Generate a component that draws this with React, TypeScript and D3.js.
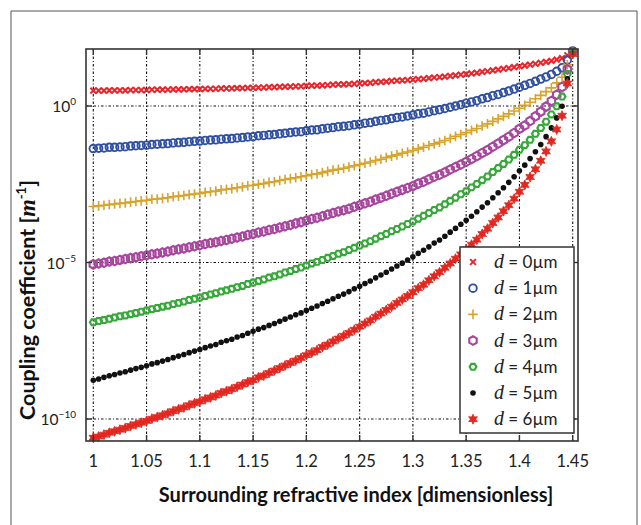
import React from "react";
import * as d3 from "d3";

const nValues = [
  1.0, 1.005, 1.01, 1.015, 1.02, 1.025, 1.03, 1.035, 1.04, 1.045,
  1.05, 1.055, 1.06, 1.065, 1.07, 1.075, 1.08, 1.085, 1.09, 1.095,
  1.1, 1.105, 1.11, 1.115, 1.12, 1.125, 1.13, 1.135, 1.14, 1.145,
  1.15, 1.155, 1.16, 1.165, 1.17, 1.175, 1.18, 1.185, 1.19, 1.195,
  1.2, 1.205, 1.21, 1.215, 1.22, 1.225, 1.23, 1.235, 1.24, 1.245,
  1.25, 1.255, 1.26, 1.265, 1.27, 1.275, 1.28, 1.285, 1.29, 1.295,
  1.3, 1.305, 1.31, 1.315, 1.32, 1.325, 1.33, 1.335, 1.34, 1.345,
  1.35, 1.355, 1.36, 1.365, 1.37, 1.375, 1.38, 1.385, 1.39, 1.395,
  1.4, 1.405, 1.41, 1.415, 1.42, 1.425, 1.43, 1.435, 1.44, 1.445,
  1.45,
];

// log10 of the coupling coefficient
const d0Exp = [
  0.49, 0.49, 0.49, 0.5, 0.5, 0.5, 0.5, 0.51, 0.51, 0.51,
  0.51, 0.52, 0.52, 0.52, 0.52, 0.53, 0.53, 0.53, 0.54, 0.54,
  0.54, 0.55, 0.55, 0.55, 0.56, 0.56, 0.56, 0.57, 0.57, 0.58,
  0.58, 0.59, 0.59, 0.6, 0.6, 0.61, 0.62, 0.62, 0.63, 0.63,
  0.64, 0.65, 0.65, 0.66, 0.67, 0.68, 0.69, 0.69, 0.7, 0.71,
  0.72, 0.73, 0.74, 0.76, 0.77, 0.78, 0.8, 0.81, 0.82, 0.83,
  0.84, 0.86, 0.87, 0.89, 0.91, 0.92, 0.94, 0.96, 0.98, 1.0,
  1.02, 1.04, 1.06, 1.09, 1.11, 1.14, 1.16, 1.19, 1.21, 1.24,
  1.27, 1.29, 1.32, 1.35, 1.38, 1.41, 1.44, 1.48, 1.53, 1.62,
  1.78,
];
const d1Exp = [
  -1.36, -1.35, -1.34, -1.32, -1.32, -1.31, -1.3, -1.28, -1.27, -1.26,
  -1.25, -1.23, -1.22, -1.21, -1.2, -1.18, -1.17, -1.16, -1.14, -1.13,
  -1.12, -1.1, -1.09, -1.08, -1.06, -1.05, -1.04, -1.02, -1.01, -0.99,
  -0.98, -0.95, -0.94, -0.92, -0.91, -0.89, -0.87, -0.85, -0.83, -0.82,
  -0.79, -0.77, -0.76, -0.73, -0.71, -0.69, -0.66, -0.65, -0.63, -0.6,
  -0.58, -0.55, -0.53, -0.49, -0.46, -0.44, -0.4, -0.37, -0.35, -0.32,
  -0.29, -0.25, -0.23, -0.19, -0.15, -0.12, -0.08, -0.04, 0.0, 0.04,
  0.09, 0.13, 0.17, 0.23, 0.27, 0.33, 0.37, 0.43, 0.48, 0.54,
  0.6, 0.66, 0.72, 0.79, 0.86, 0.93, 1.01, 1.11, 1.22, 1.47,
  1.76,
];
const d2Exp = [
  -3.21, -3.19, -3.17, -3.15, -3.13, -3.11, -3.1, -3.07, -3.05, -3.03,
  -3.01, -2.98, -2.97, -2.95, -2.93, -2.9, -2.88, -2.86, -2.83, -2.81,
  -2.79, -2.76, -2.74, -2.72, -2.68, -2.66, -2.64, -2.61, -2.59, -2.55,
  -2.53, -2.5, -2.48, -2.44, -2.42, -2.38, -2.35, -2.32, -2.29, -2.26,
  -2.23, -2.19, -2.17, -2.13, -2.09, -2.05, -2.02, -1.99, -1.95, -1.91,
  -1.87, -1.83, -1.79, -1.74, -1.7, -1.65, -1.6, -1.56, -1.51, -1.47,
  -1.42, -1.37, -1.32, -1.26, -1.21, -1.16, -1.1, -1.04, -0.97, -0.91,
  -0.85, -0.78, -0.72, -0.64, -0.57, -0.49, -0.41, -0.33, -0.25, -0.16,
  -0.07, 0.02, 0.12, 0.23, 0.34, 0.46, 0.58, 0.74, 0.92, 1.32,
  1.74,
];
const d3Exp = [
  -5.06, -5.03, -5.01, -4.97, -4.95, -4.92, -4.89, -4.86, -4.83, -4.8,
  -4.77, -4.74, -4.71, -4.68, -4.65, -4.61, -4.58, -4.55, -4.51, -4.48,
  -4.45, -4.41, -4.38, -4.35, -4.31, -4.28, -4.24, -4.2, -4.17, -4.12,
  -4.09, -4.04, -4.01, -3.96, -3.93, -3.88, -3.84, -3.8, -3.75, -3.71,
  -3.66, -3.61, -3.57, -3.52, -3.47, -3.42, -3.37, -3.33, -3.28, -3.22,
  -3.17, -3.11, -3.06, -2.99, -2.93, -2.87, -2.8, -2.74, -2.68, -2.62,
  -2.56, -2.48, -2.42, -2.34, -2.26, -2.2, -2.12, -2.03, -1.95, -1.87,
  -1.78, -1.69, -1.6, -1.5, -1.41, -1.3, -1.2, -1.09, -0.98, -0.86,
  -0.73, -0.62, -0.48, -0.33, -0.18, -0.02, 0.16, 0.36, 0.61, 1.17,
  1.72,
];
const d4Exp = [
  -6.91, -6.87, -6.84, -6.8, -6.76, -6.72, -6.69, -6.65, -6.61, -6.57,
  -6.53, -6.49, -6.45, -6.41, -6.38, -6.33, -6.29, -6.25, -6.2, -6.16,
  -6.12, -6.07, -6.02, -5.98, -5.93, -5.89, -5.84, -5.79, -5.75, -5.69,
  -5.64, -5.59, -5.54, -5.48, -5.44, -5.38, -5.32, -5.27, -5.21, -5.16,
  -5.1, -5.03, -4.98, -4.92, -4.85, -4.79, -4.72, -4.67, -4.6, -4.53,
  -4.46, -4.39, -4.32, -4.24, -4.16, -4.09, -4.0, -3.93, -3.85, -3.77,
  -3.69, -3.6, -3.51, -3.42, -3.32, -3.24, -3.14, -3.03, -2.93, -2.82,
  -2.72, -2.6, -2.49, -2.37, -2.25, -2.11, -1.98, -1.85, -1.71, -1.56,
  -1.4, -1.25, -1.08, -0.89, -0.7, -0.5, -0.27, -0.01, 0.3, 1.02,
  1.7,
];
const d5Exp = [
  -8.76, -8.72, -8.67, -8.62, -8.58, -8.53, -8.49, -8.44, -8.39, -8.35,
  -8.3, -8.24, -8.2, -8.15, -8.1, -8.04, -7.99, -7.94, -7.88, -7.83,
  -7.78, -7.72, -7.67, -7.62, -7.55, -7.5, -7.45, -7.38, -7.33, -7.26,
  -7.2, -7.13, -7.08, -7.01, -6.95, -6.88, -6.81, -6.74, -6.67, -6.61,
  -6.53, -6.46, -6.39, -6.31, -6.24, -6.16, -6.08, -6.01, -5.93, -5.84,
  -5.76, -5.67, -5.59, -5.49, -5.4, -5.31, -5.21, -5.11, -5.02, -4.92,
  -4.82, -4.71, -4.61, -4.5, -4.38, -4.28, -4.16, -4.03, -3.91, -3.78,
  -3.65, -3.52, -3.38, -3.23, -3.09, -2.93, -2.77, -2.61, -2.44, -2.26,
  -2.07, -1.89, -1.68, -1.46, -1.23, -0.98, -0.7, -0.38, -0.01, 0.87,
  1.68,
];
const d6Exp = [
  -10.6, -10.56, -10.5, -10.44, -10.39, -10.34, -10.29, -10.22, -10.17, -10.12,
  -10.06, -9.99, -9.94, -9.88, -9.82, -9.75, -9.69, -9.63, -9.56, -9.5,
  -9.44, -9.37, -9.31, -9.25, -9.17, -9.11, -9.05, -8.97, -8.9, -8.82,
  -8.76, -8.67, -8.61, -8.53, -8.45, -8.37, -8.29, -8.21, -8.13, -8.05,
  -7.96, -7.88, -7.8, -7.7, -7.62, -7.52, -7.43, -7.34, -7.25, -7.15,
  -7.05, -6.95, -6.85, -6.73, -6.63, -6.52, -6.41, -6.29, -6.18, -6.07,
  -5.95, -5.82, -5.71, -5.57, -5.44, -5.31, -5.17, -5.03, -4.88, -4.74,
  -4.58, -4.43, -4.27, -4.09, -3.92, -3.74, -3.56, -3.36, -3.17, -2.96,
  -2.74, -2.52, -2.27, -2.02, -1.75, -1.45, -1.13, -0.75, -0.31, 0.72,
  1.66,
];

const seriesLabels = ["0", "1", "2", "3", "4", "5", "6"];
const seriesExps = [d0Exp, d1Exp, d2Exp, d3Exp, d4Exp, d5Exp, d6Exp];
const seriesColors = ["#e5262b", "#2f4fa2", "#d7a32b", "#a6479d", "#36a93a", "#111111", "#e2271f"];

const xTicks = [1, 1.05, 1.1, 1.15, 1.2, 1.25, 1.3, 1.35, 1.4, 1.45];
const xTickLabels = ["1", "1.05", "1.1", "1.15", "1.2", "1.25", "1.3", "1.35", "1.4", "1.45"];
const yTicks = [1, 1e-5, 1e-10];
const yTickExps = ["0", "\u22125", "\u221210"];

const SANS = "Lato, 'Open Sans', sans-serif";
const SERIF = "'Liberation Serif', 'DejaVu Serif', serif";

const PL = 86, PR = 578, PT = 49, PB = 441;

function polyPath(cx: number, cy: number, r: number, k: number, rot: number) {
  const pts = d3.range(k).map((i) => {
    const a = ((2 * Math.PI) / k) * i + rot;
    return [cx + r * Math.cos(a), cy + r * Math.sin(a)];
  });
  return "M" + pts.map((p) => p[0].toFixed(2) + "," + p[1].toFixed(2)).join("L") + "Z";
}
function starPath(cx: number, cy: number, ro: number, ri: number, k: number) {
  const pts = d3.range(2 * k).map((i) => {
    const r = i % 2 === 0 ? ro : ri;
    const a = (Math.PI / k) * i - Math.PI / 2;
    return [cx + r * Math.cos(a), cy + r * Math.sin(a)];
  });
  return "M" + pts.map((p) => p[0].toFixed(2) + "," + p[1].toFixed(2)).join("L") + "Z";
}

function Marker({ s, cx, cy }: { s: number; cx: number; cy: number }) {
  const c = seriesColors[s];
  switch (s) {
    case 0: {
      const h = 2.9;
      return (
        <path
          d={`M${cx - h},${cy - h}L${cx + h},${cy + h}M${cx - h},${cy + h}L${cx + h},${cy - h}`}
          stroke={c}
          strokeWidth={2}
          fill="none"
        />
      );
    }
    case 1:
      return <circle cx={cx} cy={cy} r={3.8} fill="none" stroke={c} strokeWidth={1.9} />;
    case 2: {
      const h = 4.8;
      return (
        <path
          d={`M${cx - h},${cy}L${cx + h},${cy}M${cx},${cy - h}L${cx},${cy + h}`}
          stroke={c}
          strokeWidth={1.6}
          fill="none"
        />
      );
    }
    case 3:
      return <path d={polyPath(cx, cy, 4.3, 6, Math.PI / 6)} fill="none" stroke={c} strokeWidth={2.1} />;
    case 4:
      return <path d={polyPath(cx, cy, 3.4, 6, 0)} fill="none" stroke={c} strokeWidth={2.1} />;
    case 5:
      return <circle cx={cx} cy={cy} r={2.8} fill={c} />;
    default:
      return <path d={starPath(cx, cy, 5, 2.6, 6)} fill={c} stroke={c} strokeWidth={0.8} />;
  }
}

export default function App() {
  const x = d3.scaleLinear().domain([1, 1.45]).range([93.3, 572.7]);
  const y = d3.scaleLog().domain([1e-10, 1]).range([419, 106]);
  const gridDash = "2.5,2,1,2";
  const axisColor = "#333";

  return (
    <svg
      width={641}
      height={525}
      style={{ position: "absolute", left: 0, top: 0, background: "#fff" }}
      fontFamily={SANS}
    >
      <rect x={0} y={0} width={641} height={525} fill="#fff" />
      {/* outer frame */}
      <path d="M11,525L11,11L637,11L637,525" fill="none" stroke="#555" strokeWidth={1} />

      {/* grid */}
      {xTicks.map((t) => (
        <line key={"gx" + t} x1={x(t)} x2={x(t)} y1={PT} y2={PB} stroke="#111" strokeWidth={1.1} strokeDasharray={gridDash} />
      ))}
      {yTicks.map((t) => (
        <line key={"gy" + t} x1={PL} x2={PR} y1={y(t)} y2={y(t)} stroke="#111" strokeWidth={1.1} strokeDasharray={gridDash} />
      ))}

      {/* series */}
      {seriesExps.map((arr, s) => (
        <g key={"s" + s}>
          {arr.map((e, i) => (
            <Marker key={i} s={s} cx={x(nValues[i])} cy={y(Math.pow(10, e))} />
          ))}
        </g>
      ))}

      {/* axes frame */}
      <rect x={PL} y={PT} width={PR - PL} height={PB - PT} fill="none" stroke={axisColor} strokeWidth={1.6} />
      {xTicks.map((t) => (
        <g key={"tx" + t}>
          <line x1={x(t)} x2={x(t)} y1={PB} y2={PB - 6} stroke={axisColor} strokeWidth={1.4} />
          <line x1={x(t)} x2={x(t)} y1={PT} y2={PT + 6} stroke={axisColor} strokeWidth={1.4} />
        </g>
      ))}
      {yTicks.map((t) => (
        <g key={"ty" + t}>
          <line x1={PL} x2={PL + 6} y1={y(t)} y2={y(t)} stroke={axisColor} strokeWidth={1.4} />
          <line x1={PR} x2={PR - 6} y1={y(t)} y2={y(t)} stroke={axisColor} strokeWidth={1.4} />
        </g>
      ))}

      {/* tick labels */}
      {xTicks.map((t, i) => (
        <text key={"lx" + t} x={x(t)} y={467} textAnchor="middle" fontSize={16.5} fill="#222">
          {xTickLabels[i]}
        </text>
      ))}
      {yTicks.map((t, i) => (
        <text key={"ly" + t} x={76} y={y(t) + 6} textAnchor="end" fontSize={15.5} fill="#222">
          10
          <tspan dy={-7} fontSize={10}>
            {yTickExps[i]}
          </tspan>
        </text>
      ))}

      {/* axis titles */}
      <text x={356} y={502} textAnchor="middle" fontSize={20} fontWeight="bold" fill="#111">
        Surrounding refractive index [dimensionless]
      </text>
      <text
        transform="translate(35,300) rotate(-90)"
        textAnchor="middle"
        fontSize={21.5}
        fontWeight="bold"
        fill="#111"
      >
        Coupling coefficient [
        <tspan fontFamily={SERIF} fontStyle="italic" fontWeight="bold" fontSize={22.5}>
          m
        </tspan>
        <tspan dy={-9} fontSize={13}>
          -1
        </tspan>
        <tspan dy={9}>]</tspan>
      </text>

      {/* legend */}
      <rect x={460} y={247} width={114} height={186} fill="#fff" stroke={axisColor} strokeWidth={1.5} />
      {seriesLabels.map((lab, i) => {
        const cy = 262 + i * 26.2;
        return (
          <g key={"lg" + i}>
            <Marker s={i} cx={473} cy={cy} />
            <text x={494} y={cy + 6} fontSize={17} fill="#222">
              <tspan fontFamily={SERIF} fontStyle="italic" fontSize={20}>
                d
              </tspan>
              <tspan> = {lab}µm</tspan>
            </text>
          </g>
        );
      })}
    </svg>
  );
}
